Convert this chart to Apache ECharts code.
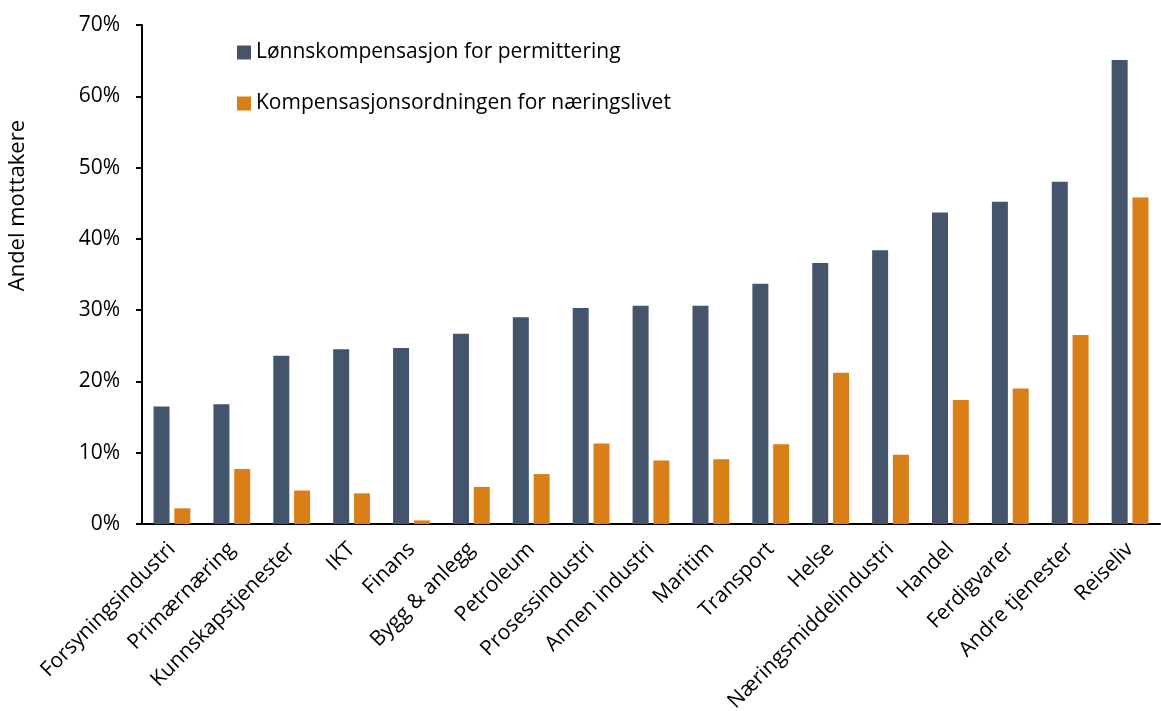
<!DOCTYPE html>
<html>
<head>
<meta charset="utf-8">
<script src="https://cdn.jsdelivr.net/npm/echarts@6/dist/echarts.min.js"></script>
<style>
  html, body { margin: 0; padding: 0; background: #fff; }
  #chart1 { width: 1161px; height: 711px; }
</style>
</head>
<body>
<div id="chart1"></div>
<script>
var categories = ['Forsyningsindustri', 'Primærnæring', 'Kunnskapstjenester', 'IKT', 'Finans',
    'Bygg & anlegg', 'Petroleum', 'Prosessindustri', 'Annen industri', 'Maritim', 'Transport',
    'Helse', 'Næringsmiddelindustri', 'Handel', 'Ferdigvarer', 'Andre tjenester', 'Reiseliv'];
var seriesNames = ['Lønnskompensasjon for permittering', 'Kompensasjonsordningen for næringslivet'];
var lonnskomp = [16.5, 16.8, 23.6, 24.5, 24.7, 26.7, 29.0, 30.3, 30.6, 30.6, 33.7, 36.6, 38.4, 43.7, 45.2, 48.0, 65.1];
var kompOrdning = [2.2, 7.7, 4.7, 4.3, 0.5, 5.2, 7.0, 11.3, 8.9, 9.1, 11.2, 21.2, 9.7, 17.4, 19.0, 26.5, 45.8];
var yTicks = [0, 10, 20, 30, 40, 50, 60, 70];

var font = '"Open Sans", sans-serif';
var myChart = echarts.init(document.getElementById('chart1'));

var option = {
    animation: false,
    textStyle: { fontFamily: font, color: '#000' },
    grid: { left: 142, right: 1, top: 25, bottom: 187, outerBoundsMode: 'none', containLabel: false },
    legend: {
        orient: 'vertical',
        left: 232,
        top: 37,
        itemWidth: 14,
        itemHeight: 14,
        itemGap: 30,
        icon: 'rect',
        textStyle: { fontFamily: font, fontSize: 21, color: '#000' },
        data: seriesNames
    },
    graphic: [{
        type: 'text',
        left: 7,
        top: 120,
        rotation: Math.PI / 2,
        style: { text: 'Andel mottakere', font: '22px ' + font, fill: '#000' }
    }],
    xAxis: {
        type: 'category',
        data: categories,
        axisLine: { lineStyle: { color: '#000', width: 2 } },
        axisTick: { show: false },
        axisLabel: { rotate: 45, interval: 0, fontSize: 21, color: '#000', margin: 22 }
    },
    yAxis: {
        type: 'value',
        min: yTicks[0],
        max: yTicks[yTicks.length - 1],
        interval: 10,
        splitLine: { show: false },
        axisLine: { show: true, lineStyle: { color: '#000', width: 2 } },
        axisTick: { show: true, inside: false, length: 6, lineStyle: { color: '#000', width: 2 } },
        axisLabel: { fontSize: 21, color: '#000', margin: 22, formatter: '{value}%' }
    },
    series: [
        {
            name: seriesNames[0],
            type: 'bar',
            data: lonnskomp,
            barWidth: 16,
            barGap: '30%',
            itemStyle: { color: '#44546A' }
        },
        {
            name: seriesNames[1],
            type: 'bar',
            data: kompOrdning,
            barWidth: 16,
            itemStyle: { color: '#D97F17' }
        }
    ]
};
myChart.setOption(option);
</script>
</body>
</html>
